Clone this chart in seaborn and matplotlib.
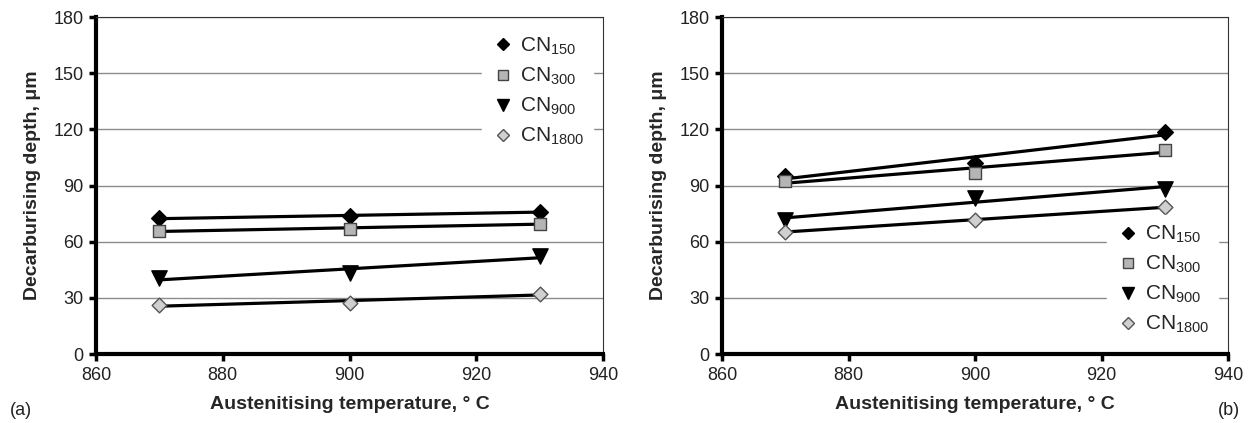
import numpy as np
import pandas as pd
import seaborn as sns
import matplotlib
matplotlib.use("Agg")
import matplotlib.pyplot as plt
from matplotlib.lines import Line2D

temps = [870, 900, 930]
series_names = ["CN150", "CN300", "CN900", "CN1800"]
series_labels = ["CN$_{150}$", "CN$_{300}$", "CN$_{900}$", "CN$_{1800}$"]

depth_a_cn150 = [72.4, 73.8, 75.9]
depth_a_cn300 = [65.8, 66.7, 69.7]
depth_a_cn900 = [40.6, 43.5, 52.4]
depth_a_cn1800 = [26.3, 27.0, 32.3]

depth_b_cn150 = [95.3, 101.8, 118.8]
depth_b_cn300 = [92.6, 96.7, 109.1]
depth_b_cn900 = [71.5, 83.5, 88.2]
depth_b_cn1800 = [65.3, 71.5, 78.5]

x_ticks = [860, 880, 900, 920, 940]
y_ticks = [0, 30, 60, 90, 120, 150, 180]

sns.set_theme(style="white")
plt.rcParams['font.family'] = ['Liberation Sans', 'DejaVu Sans']
plt.rcParams['mathtext.default'] = 'regular'

markers = ["D", "s", "v", "D"]
faces = ["black", "#b5b5b5", "black", "#d0d0d0"]
edges = ["black", "#444444", "black", "#555555"]
sizes = [8, 9, 11, 7.5]


def make_df(vals):
    rows = []
    for name, v in zip(series_names, vals):
        for t, d in zip(temps, v):
            rows.append({"temp": t, "depth": d, "series": name})
    return pd.DataFrame(rows)


def draw(ax, df):
    for i, name in enumerate(series_names):
        sub = df[df.series == name]
        sns.regplot(data=sub, x="temp", y="depth", ax=ax, ci=None, scatter=False,
                    truncate=True, line_kws=dict(color="black", lw=2.3, zorder=3))
        sns.scatterplot(data=sub, x="temp", y="depth", ax=ax, marker=markers[i],
                        s=sizes[i] ** 2, color=faces[i], edgecolor=edges[i],
                        linewidth=1.0, zorder=4, legend=False)
    ax.set_xlim(860, 940)
    ax.set_ylim(0, 180)
    ax.set_xticks(x_ticks)
    ax.set_yticks(y_ticks)
    ax.yaxis.grid(True, color="#8c8c8c", lw=1.0)
    ax.set_axisbelow(True)
    for s in ["left", "bottom"]:
        ax.spines[s].set_linewidth(3)
        ax.spines[s].set_color("black")
    for s in ["top", "right"]:
        ax.spines[s].set_linewidth(0.8)
        ax.spines[s].set_color("#333333")
    ax.tick_params(axis="both", which="major", direction="out", length=5, width=2.5,
                   labelsize=13, color="black", labelcolor="#222222", bottom=True, left=True, pad=4)
    ax.set_xlabel("Austenitising temperature, \u00b0 C", fontsize=14, fontweight="bold", labelpad=9)
    ax.set_ylabel("Decarburising depth, μm", fontsize=14, fontweight="bold", labelpad=9)
    handles = [Line2D([], [], linestyle="none", marker=markers[i], markersize=sizes[i] * 0.75,
                      markerfacecolor=faces[i], markeredgecolor=edges[i], markeredgewidth=1.0)
               for i in range(4)]
    return handles


fig = plt.figure(figsize=(12.5, 4.23), dpi=100)
ax1 = fig.add_axes([0.0768, 0.1631, 0.4056, 0.7967])
ax2 = fig.add_axes([0.5776, 0.1631, 0.4048, 0.7967])

h = draw(ax1, make_df([depth_a_cn150, depth_a_cn300, depth_a_cn900, depth_a_cn1800]))
leg = ax1.legend(h, series_labels, loc="upper right", bbox_to_anchor=(1.0, 1.0), fontsize=15,
                 frameon=True, framealpha=1, edgecolor="white", facecolor="white",
                 handletextpad=0.2, handlelength=1.2, labelspacing=0.42, borderpad=0.4)
leg.set_zorder(5)

h = draw(ax2, make_df([depth_b_cn150, depth_b_cn300, depth_b_cn900, depth_b_cn1800]))
leg = ax2.legend(h, series_labels, loc="lower right", bbox_to_anchor=(1.0, 0.0), fontsize=15,
                 frameon=True, framealpha=1, edgecolor="white", facecolor="white",
                 handletextpad=0.2, handlelength=1.2, labelspacing=0.42, borderpad=0.4)
leg.set_zorder(5)

fig.text(10 / 1250, 1 - 410 / 423, "(a)", fontsize=13, va="center", ha="left", color="#222222")
fig.text(1240 / 1250, 1 - 410 / 423, "(b)", fontsize=13, va="center", ha="right", color="#222222")

fig.savefig("out.png", dpi=100)
